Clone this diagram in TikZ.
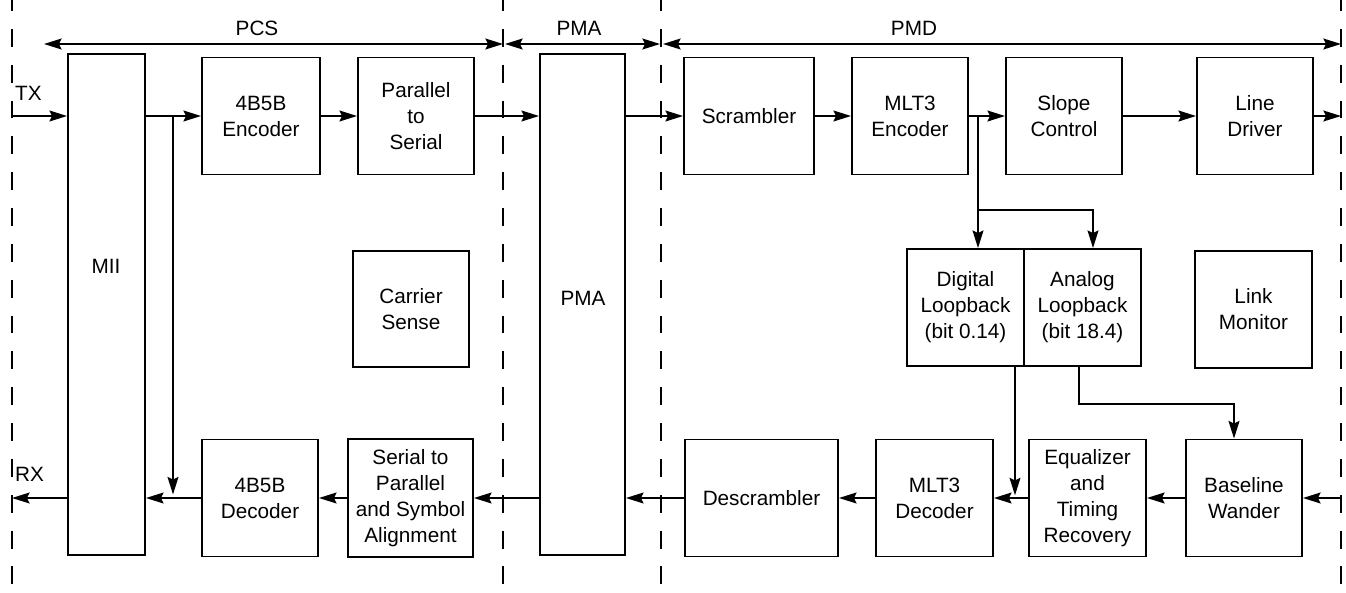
\documentclass[tikz,border=0pt]{standalone}
\usepackage{fontspec}
\setmainfont{Liberation Sans}
\usetikzlibrary{arrows.meta,positioning}

\begin{document}
\begin{tikzpicture}[
  x=0.02cm, y=-0.02cm,
  font=\fontsize{11.8}{14.8}\selectfont,
  caixa/.style={rectangle, draw, line width=1.1pt, minimum width=2.34cm,
                minimum height=2.34cm, inner sep=2pt, align=center},
  caixaalta/.style={rectangle, draw, line width=1.1pt, minimum height=10.02cm},
  seta/.style={-{Stealth[length=10pt, width=6.2pt, inset=1.5pt]}, line width=1.1pt},
  cota/.style={{Stealth[length=10pt, width=6.2pt, inset=1.5pt]}-{Stealth[length=10pt, width=6.2pt, inset=1.5pt]},
               line width=1.1pt},
  divisa/.style={line width=1.1pt, dash pattern=on 10.2pt off 10.2pt, dash phase=4pt}
]
  \useasboundingbox (0,0) rectangle (1346,592);

  % fronteiras entre subcamadas
  \foreach \xd in {12,503,661,1341}
    \draw[divisa] (\xd,0) -- (\xd,592);

  % cotas no topo
  \coordinate (pcsa) at (44,44);
  \coordinate (pcsb) at (503,44);
  \coordinate (pmaa) at (505,44);
  \coordinate (pmab) at (660,44);
  \coordinate (pmda) at (663,44);
  \coordinate (pmdb) at (1341,44);
  \draw[cota] (pcsa) -- (pcsb);
  \draw[cota] (pmaa) -- (pmab);
  \draw[cota] (pmda) -- (pmdb);
  \node (rotpcs) at (257,28) {PCS};
  \node (rotpma) at (579,28) {PMA};
  \node (rotpmd) at (914,28) {PMD};

  % blocos altos
  \node[caixaalta, minimum width=1.54cm] (mii) at (106.5,304.5) {};
  \node (rotmii) at (106,266) {MII};
  \node[caixaalta, minimum width=1.70cm] (pma) at (582.5,304.5) {};
  \node (rotpmab) at (583,298) {PMA};

  % caminho de transmissao
  \node[caixa, minimum width=2.36cm] (enc) at (261,116) {4B5B\\Encoder};
  \node[caixa, minimum width=2.32cm] (p2s) at (416,116) {Parallel\\to\\Serial};
  \node[caixa, minimum width=2.60cm] (scr) at (749,116) {Scrambler};
  \node[caixa, minimum width=2.32cm] (mlt3e) at (910,116) {MLT3\\Encoder};
  \node[caixa, minimum width=2.32cm] (slope) at (1064,116) {Slope\\Control};
  \node[caixa, minimum width=2.32cm] (drv) at (1255,116) {Line\\Driver};

  % blocos do meio
  \node[caixa, minimum width=2.32cm, minimum height=2.32cm] (cs) at (411,309) {Carrier\\Sense};
  \node[caixa] (dlb) at (965.5,307.5) {Digital\\Loopback\\(bit 0.14)};
  \node[caixa] (alb) at (1082.5,307.5) {Analog\\Loopback\\(bit 18.4)};
  \node[caixa] (lm) at (1253.5,309.5) {Link\\Monitor};

  % caminho de recepcao
  \node[caixa, minimum width=2.32cm] (dec) at (260,498) {4B5B\\Decoder};
  \node[caixa, minimum width=2.50cm, minimum height=2.36cm] (s2p) at (410.5,498) {Serial to\\Parallel\\and Symbol\\Alignment};
  \node[caixa, minimum width=3.06cm] (descr) at (761.5,498) {Descrambler};
  \node[caixa] (mlt3d) at (934.5,498) {MLT3\\Decoder};
  \node[caixa] (eq) at (1087.5,498) {Equalizer\\and\\Timing\\Recovery};
  \node[caixa, minimum width=2.32cm] (blw) at (1244,498) {Baseline\\Wander};

  % entradas e saidas
  \coordinate (txin) at (12,116);
  \coordinate (txout) at (1341,116);
  \coordinate (rxin) at (1341,498);
  \coordinate (rxout) at (12,498);
  \node[anchor=west, inner sep=1pt] (rottx) at (13,93) {TX};
  \node[anchor=west, inner sep=1pt] (rotrx) at (13,474) {RX};

  % setas de transmissao
  \draw[seta] (txin) -- (txin -| mii.west);
  \draw[seta] (mii.east |- enc.west) -- (enc.west);
  \draw[seta] (enc) -- (p2s);
  \draw[seta] (p2s.east) -- (p2s.east -| pma.west);
  \draw[seta] (pma.east |- scr.west) -- (scr.west);
  \draw[seta] (scr) -- (mlt3e);
  \draw[seta] (mlt3e) -- (slope);
  \draw[seta] (slope) -- (drv);
  \draw[seta] (drv.east) -- (txout);

  % derivacoes
  \coordinate (ramo1) at (173,116);
  \coordinate (ramo2) at (978,116);
  \draw[seta, shorten >=2pt] (ramo1) -- (ramo1 |- dec.west);
  \draw[seta] (ramo2) -- (ramo2 |- dlb.north);
  \draw[seta] (ramo2) ++(0,94) -| ([xshift=0.21cm]alb.north);
  \coordinate (dlbout) at ([xshift=0.99cm]dlb.south);
  \coordinate (albout) at ([xshift=-0.07cm]alb.south);
  \draw[seta, shorten >=1.5pt] (dlbout) -- (dlbout |- mlt3d.east);
  \draw[seta] (albout) -- ++(0,37) -| ([xshift=-0.2cm]blw.north);

  % setas de recepcao
  \draw[seta] (rxin) -- (blw);
  \draw[seta] (blw) -- (eq);
  \draw[seta] (eq) -- (mlt3d);
  \draw[seta] (mlt3d) -- (descr);
  \draw[seta] (descr.west) -- (descr.west -| pma.east);
  \draw[seta] (s2p.east -| pma.west) -- (s2p.east);
  \draw[seta] (s2p) -- (dec);
  \draw[seta] (dec.west) -- (dec.west -| mii.east);
  \draw[seta] (dec.west -| mii.west) -- (rxout);
\end{tikzpicture}
\end{document}
